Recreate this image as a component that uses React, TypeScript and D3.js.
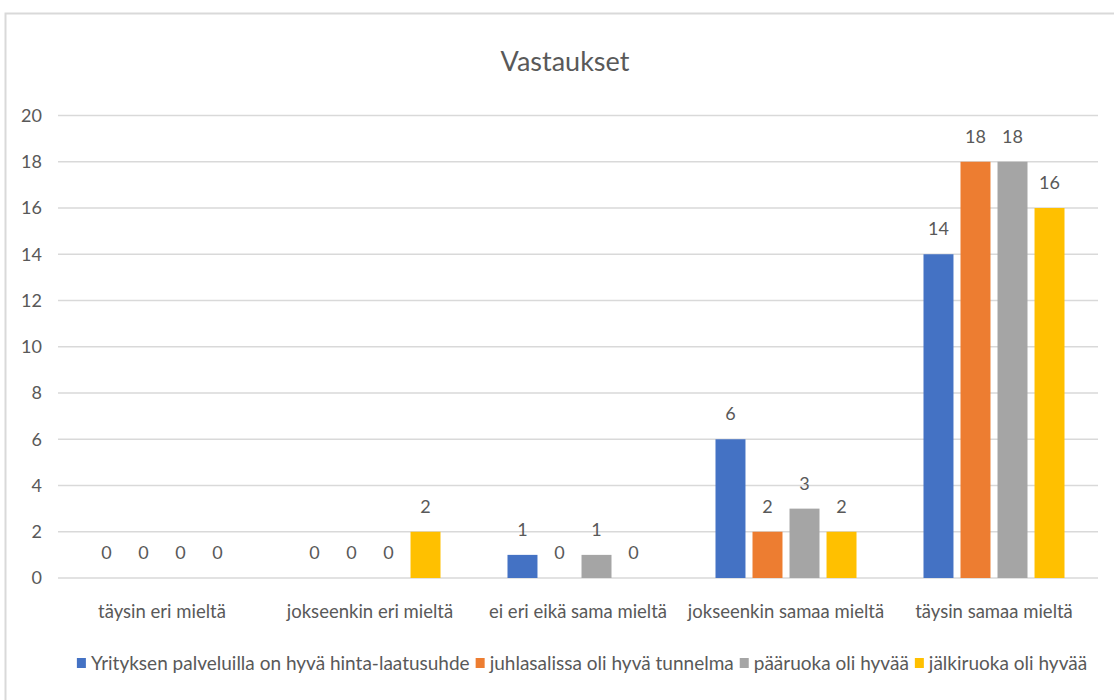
import React, { useEffect, useRef } from "react";
import * as d3 from "d3";

const categories = [
  "täysin eri mieltä",
  "jokseenkin eri mieltä",
  "ei eri eikä sama mieltä",
  "jokseenkin samaa mieltä",
  "täysin samaa mieltä",
];
const seriesNames = [
  "Yrityksen palveluilla on hyvä hinta-laatusuhde",
  "juhlasalissa oli hyvä tunnelma",
  "pääruoka oli hyvää",
  "jälkiruoka oli hyvää",
];
const seriesColors = ["#4472C4", "#ED7D31", "#A5A5A5", "#FFC000"];
const hintaLaatu = [0, 0, 1, 6, 14];
const tunnelma = [0, 0, 0, 2, 18];
const paaruoka = [0, 0, 1, 3, 18];
const jalkiruoka = [0, 2, 0, 2, 16];
const yTicks = [0, 2, 4, 6, 8, 10, 12, 14, 16, 18, 20];
const title = "Vastaukset";

const W = 1114;
const H = 700;
const FONT = "Lato, 'Open Sans', sans-serif";
const TXT = "#595959";

export default function App() {
  const ref = useRef<SVGSVGElement | null>(null);

  useEffect(() => {
    const svg = d3.select(ref.current);
    svg.selectAll("*").remove();
    const series = [hintaLaatu, tunnelma, paaruoka, jalkiruoka];

    const left = 58, right = 1098, top = 115.5, bottom = 578;

    // border
    svg.append("rect")
      .attr("x", 5.5).attr("y", 13.5)
      .attr("width", W + 10).attr("height", H + 10)
      .attr("fill", "#fff").attr("stroke", "#D9D9D9").attr("stroke-width", 2);

    const y = d3.scaleLinear().domain([0, 20]).range([bottom, top]);
    const x0 = d3.scaleBand<string>().domain(categories).range([left, right]).paddingInner(0).paddingOuter(0);
    const x1 = d3.scaleBand<number>().domain([0, 1, 2, 3]).range([0, x0.bandwidth()]).paddingInner(0.19).paddingOuter(0.905);

    // title
    svg.append("text")
      .attr("x", 565).attr("y", 71)
      .attr("text-anchor", "middle")
      .attr("font-family", FONT).attr("font-size", 27)
      .attr("fill", TXT).text(title);

    // gridlines
    svg.append("g").selectAll("line").data(yTicks).join("line")
      .attr("x1", left).attr("x2", right)
      .attr("y1", (d) => y(d)).attr("y2", (d) => y(d))
      .attr("stroke", "#D9D9D9").attr("stroke-width", 1.5);

    // y tick labels
    svg.append("g").selectAll("text").data(yTicks).join("text")
      .attr("x", 42).attr("y", (d) => y(d)).attr("dy", "0.36em")
      .attr("text-anchor", "end")
      .attr("font-family", FONT).attr("font-size", 18)
      .attr("fill", TXT).text((d) => String(d));

    // bars
    const g = svg.append("g");
    categories.forEach((c, ci) => {
      series.forEach((s, si) => {
        const v = s[ci];
        const bx = (x0(c) ?? 0) + (x1(si) ?? 0);
        if (v > 0) {
          g.append("rect")
            .attr("x", bx).attr("y", y(v))
            .attr("width", x1.bandwidth()).attr("height", y(0) - y(v))
            .attr("fill", seriesColors[si]);
        }
        g.append("text")
          .attr("x", bx + x1.bandwidth() / 2).attr("y", y(v) - 19)
          .attr("text-anchor", "middle")
          .attr("font-family", FONT).attr("font-size", 18)
          .attr("fill", TXT).text(String(v));
      });
    });

    // category labels
    svg.append("g").selectAll("text").data(categories).join("text")
      .attr("x", (d) => (x0(d) ?? 0) + x0.bandwidth() / 2)
      .attr("y", 618)
      .attr("text-anchor", "middle")
      .attr("font-family", FONT).attr("font-size", 18.5)
      .attr("fill", TXT).text((d) => d);

    // legend
    const lg = svg.append("g");
    const items = seriesNames.map((n, i) => {
      const it = lg.append("g");
      it.append("rect").attr("x", 0).attr("y", -5).attr("width", 9).attr("height", 10).attr("fill", seriesColors[i]);
      const t = it.append("text").attr("x", 14).attr("y", 0).attr("dy", "0.36em")
        .attr("font-family", FONT).attr("font-size", 19).attr("fill", TXT).text(n);
      const w = 14 + ((t.node() as SVGTextElement).getComputedTextLength?.() ?? 0);
      return { it, w };
    });
    const gap = 6;
    const total = items.reduce((a, b) => a + b.w, 0) + gap * (items.length - 1);
    let cx = 582 - total / 2;
    items.forEach(({ it, w }) => {
      it.attr("transform", `translate(${cx},663)`);
      cx += w + gap;
    });
  }, []);

  return (
    <div style={{ position: "absolute", left: 0, top: 0 }}>
      <svg ref={ref} width={W} height={H} style={{ display: "block", background: "#fff" }} />
    </div>
  );
}
